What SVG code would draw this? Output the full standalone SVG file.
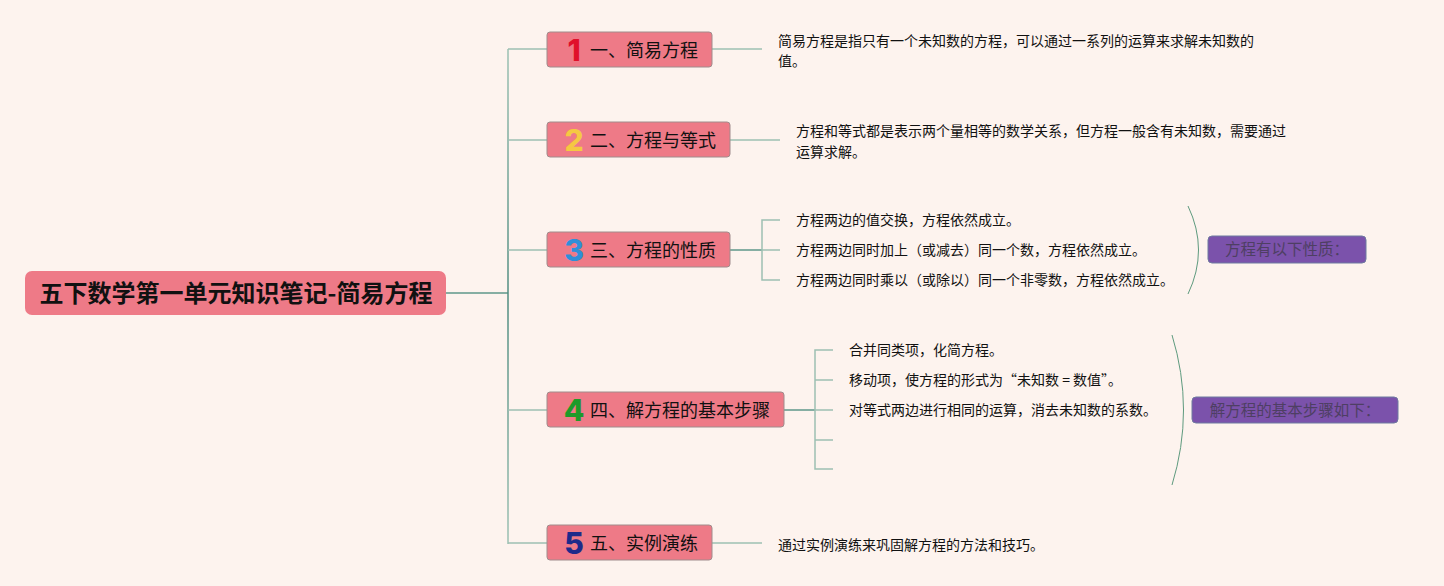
<svg xmlns="http://www.w3.org/2000/svg" width="1444" height="586" viewBox="0 0 1444 586">
<defs>
<linearGradient id="trunk" gradientUnits="userSpaceOnUse" x1="0" y1="49" x2="0" y2="544">
<stop offset="0" stop-color="#9CC1B3"/>
<stop offset="0.5" stop-color="#4F8C80"/>
<stop offset="1" stop-color="#9CC1B3"/>
</linearGradient>
</defs>
<style>
.bg{fill:#FDF3EE}
.root{fill:#EE7A87}
.rootT{font-family:"Noto Sans CJK SC","Liberation Sans",sans-serif;font-weight:700;font-size:24px;fill:#111}
.node{fill:#EE7A87;stroke:#A08C8C;stroke-width:1}
.lbl{font-family:"Noto Sans CJK SC","Liberation Sans",sans-serif;font-size:18px;fill:#111}
.num{font-family:"Inter","Liberation Sans",sans-serif;font-weight:800;font-size:30px;text-anchor:middle}
.txt{font-family:"Noto Sans CJK SC","Liberation Sans",sans-serif;font-size:14px;fill:#111}
.sum{fill:#7B52AB;stroke:#6F7AA0;stroke-width:1}
.sumT{font-family:"Noto Sans CJK SC","Liberation Sans",sans-serif;font-size:15.5px;fill:#4E3F63;text-anchor:middle}
.ln{fill:none;stroke:#9DC0B2;stroke-width:1.5}
.dk{fill:none;stroke:#5E978A;stroke-width:1.5}
.br{fill:none;stroke:#5E9A7E;stroke-width:1}
</style>
<rect class="bg" x="0" y="0" width="1444" height="586"/>
<g id="connectors">
<line x1="446" y1="293" x2="508" y2="293" class="dk"/>
<line x1="508" y1="49" x2="508" y2="544" stroke="url(#trunk)" stroke-width="1.5"/>
<path class="ln" d="M508 49H547M508 140H547M508 250H547M508 410H547M508 543H547"/>
<path class="ln" d="M712 49H762"/>
<path class="ln" d="M730 140H780"/>
<path class="dk" d="M730 250H762"/>
<path class="ln" d="M780 220H762V280H780M762 250H780"/>
<path class="dk" d="M784 410H815"/>
<path class="ln" d="M833 350H815V469H833M815 380H833M815 410H833M815 440H833"/>
<path class="ln" d="M712 543H762"/>
<path class="br" d="M1188 206Q1209 250 1188 294"/>
<path class="br" d="M1172 335Q1195 410 1172 485"/>
</g>
<g id="root">
<rect class="root" x="25" y="271" width="421" height="44" rx="7"/>
<text class="rootT" x="236" y="302" text-anchor="middle">五下数学第一单元知识笔记-简易方程</text>
</g>
<g id="n1">
<rect class="node" x="547" y="32" width="165" height="35" rx="3"/>
<text class="num" x="574" y="61" fill="#E0102A">1</text>
<text class="lbl" x="590" y="57">一、简易方程</text>
</g>
<g id="n1t">
<text class="txt" x="778" y="46">简易方程是指只有一个未知数的方程，可以通过一系列的运算来求解未知数的</text>
<text class="txt" x="778" y="66">值。</text>
</g>
<g id="n2">
<rect class="node" x="547" y="122" width="183" height="35" rx="3"/>
<text class="num" x="574" y="151" fill="#F5C842">2</text>
<text class="lbl" x="590" y="147">二、方程与等式</text>
</g>
<g id="n2t">
<text class="txt" x="796" y="136">方程和等式都是表示两个量相等的数学关系，但方程一般含有未知数，需要通过</text>
<text class="txt" x="796" y="157">运算求解。</text>
</g>
<g id="n3">
<rect class="node" x="547" y="232" width="183" height="35" rx="3"/>
<text class="num" x="574" y="261" fill="#2E8FD8">3</text>
<text class="lbl" x="590" y="257">三、方程的性质</text>
</g>
<g id="n3t">
<text class="txt" x="796" y="225">方程两边的值交换，方程依然成立。</text>
<text class="txt" x="796" y="255">方程两边同时加上（或减去）同一个数，方程依然成立。</text>
<text class="txt" x="796" y="285">方程两边同时乘以（或除以）同一个非零数，方程依然成立。</text>
</g>
<g id="s3">
<rect class="sum" x="1208" y="236" width="158" height="27" rx="4"/>
<text class="sumT" x="1287" y="255">方程有以下性质：</text>
</g>
<g id="n4">
<rect class="node" x="547" y="392" width="237" height="35" rx="3"/>
<text class="num" x="574" y="421" fill="#1E9A2A">4</text>
<text class="lbl" x="590" y="417">四、解方程的基本步骤</text>
</g>
<g id="n4t">
<text class="txt" x="849" y="355">合并同类项，化简方程。</text>
<text class="txt" x="849" y="385">移动项，使方程的形式为“未知数 = 数值”。</text>
<text class="txt" x="849" y="415">对等式两边进行相同的运算，消去未知数的系数。</text>
</g>
<g id="s4">
<rect class="sum" x="1192" y="397" width="206" height="26" rx="4"/>
<text class="sumT" x="1295" y="416">解方程的基本步骤如下：</text>
</g>
<g id="n5">
<rect class="node" x="547" y="525" width="165" height="35" rx="3"/>
<text class="num" x="574" y="554" fill="#1E2A8A">5</text>
<text class="lbl" x="590" y="550">五、实例演练</text>
</g>
<g id="n5t">
<text class="txt" x="778" y="550">通过实例演练来巩固解方程的方法和技巧。</text>
</g>
</svg>
